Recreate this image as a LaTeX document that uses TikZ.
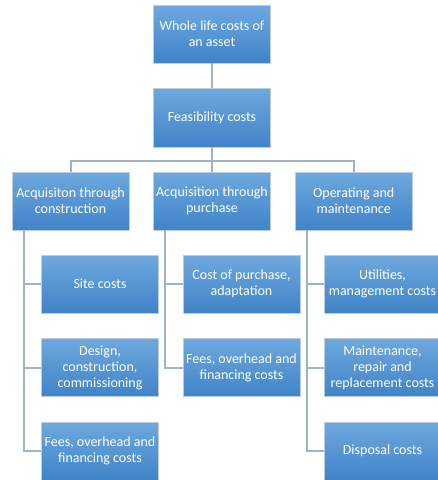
\documentclass[tikz,border=0pt]{standalone}
\usepackage{fontspec}
\setmainfont{Carlito}
\begin{document}
\begin{tikzpicture}[x=1pt,y=-1pt,
  box/.style={rectangle, minimum width=117pt, minimum height=58pt, inner sep=0pt,
    top color=boxtop, bottom color=boxbot, draw=boxedge, line width=0.8pt,
    text=white, align=center, font=\fontsize{14}{16}\selectfont},
  conn/.style={draw=connc, line width=2pt}]
\definecolor{boxtop}{RGB}{110,168,222}
\definecolor{boxbot}{RGB}{64,132,200}
\definecolor{boxedge}{RGB}{190,205,222}
\definecolor{connc}{RGB}{160,178,200}
\useasboundingbox (0,0) rectangle (438,480);
\fill[white] (0,0) rectangle (438,480);
\node[box] (top) at (212,34) {Whole life costs of\\an asset};
\node[box, minimum height=59pt] (feas) at (212,117.5) {Feasibility costs};
\node[box] (a) at (70.5,201) {Acquisiton through\\construction};
\node[box] (b) at (212,201) {Acquisition through\\purchase};
\node[box] (c) at (353.7,201) {Operating and\\maintenance};
\node[box] (a1) at (100,284) {Site costs};
\node[box] (a2) at (100,367.5) {Design,\\construction,\\commissioning};
\node[box] (a3) at (100,451) {Fees, overhead and\\financing costs};
\node[box] (b1) at (241.5,284) {Cost of purchase,\\adaptation};
\node[box] (b2) at (241.5,367.5) {Fees, overhead and\\financing costs};
\node[box] (c1) at (382.5,284) {Utilities,\\management costs};
\node[box] (c2) at (382.5,367.5) {Maintenance,\\repair and\\replacement costs};
\node[box] (c3) at (382.5,451) {Disposal costs};
\coordinate (bar) at (212,161);
\coordinate (ta) at ([xshift=12pt]a.south west);
\coordinate (tb) at ([xshift=12pt]b.south west);
\coordinate (tc) at ([xshift=12pt]c.south west);
\draw[conn] (top.south) -- (feas.north);
\draw[conn] (feas.south) -- (bar);
\draw[conn] (bar) -| (a.north);
\draw[conn] (bar) -| (c.north);
\draw[conn] (bar) -- (b.north);
\draw[conn] (ta) |- (a1.west);
\draw[conn] (ta) |- (a2.west);
\draw[conn] (ta) |- (a3.west);
\draw[conn] (tb) |- (b1.west);
\draw[conn] (tb) |- (b2.west);
\draw[conn] (tc) |- (c1.west);
\draw[conn] (tc) |- (c2.west);
\draw[conn] (tc) |- (c3.west);
\end{tikzpicture}
\end{document}
